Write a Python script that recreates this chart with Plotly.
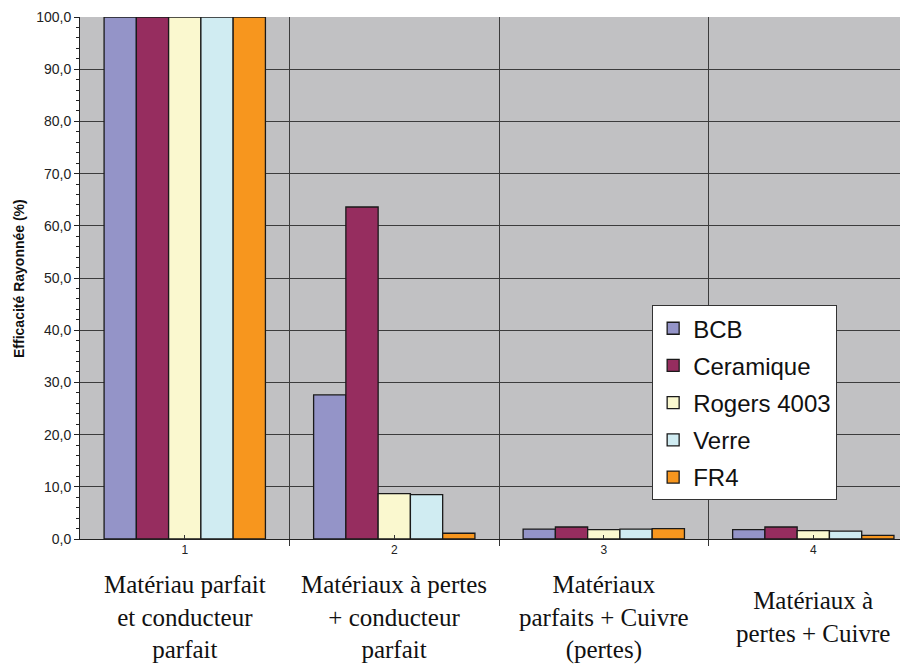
import plotly.graph_objects as go

categories = [1, 2, 3, 4]
tick_labels = ["1", "2", "3", "4"]
category_descriptions = [
    "Matériau parfait<br>et conducteur<br>parfait",
    "Matériaux à pertes<br>+ conducteur<br>parfait",
    "Matériaux<br>parfaits + Cuivre<br>(pertes)",
    "Matériaux à<br>pertes + Cuivre",
]

series_names = ["BCB", "Ceramique", "Rogers 4003", "Verre", "FR4"]
bcb = [100.0, 27.6, 1.9, 1.8]
ceramique = [100.0, 63.6, 2.3, 2.3]
rogers = [100.0, 8.7, 1.8, 1.6]
verre = [100.0, 8.5, 1.9, 1.5]
fr4 = [100.0, 1.1, 2.0, 0.7]
series_values = [bcb, ceramique, rogers, verre, fr4]
colors = ["#9494C8", "#962D5F", "#FAF8CF", "#D0ECF2", "#F7961E"]

fig = go.Figure()
for name, vals, col in zip(series_names, series_values, colors):
    fig.add_trace(go.Bar(
        x=categories, y=vals, name=name, legendgroup=name,
        marker=dict(color=col, line=dict(color="#1a1a1a", width=1.3)),
    ))

for cx, desc in zip(categories, category_descriptions):
    fig.add_annotation(
        x=cx, xref="x", y=0, yref="paper", yanchor="middle", yshift=-78,
        text=desc, showarrow=False, align="center",
        font=dict(family="Liberation Serif", size=25, color="#111"),
    )

fig.add_annotation(
    x=-0.0737, xref="paper", xanchor="center", y=0.5, yref="paper", yanchor="middle",
    text="<b>Efficacité Rayonnée (%)</b>", textangle=-90, showarrow=False,
    font=dict(family="Liberation Sans", size=14, color="#111"),
)

fig.update_layout(
    width=900, height=660,
    margin=dict(l=72, r=0, t=9, b=129),
    paper_bgcolor="white",
    plot_bgcolor="#C1C1C3",
    barmode="group",
    bargap=0.23,
    bargroupgap=0,
    separators=",.",
    font=dict(family="Liberation Sans", color="#222"),
    showlegend=True,
    legend=dict(
        x=0.691, y=0.448, xanchor="left", yanchor="top",
        bgcolor="white", bordercolor="#333", borderwidth=1,
        font=dict(family="Liberation Sans", size=24, color="#111"),
        tracegroupgap=3, itemwidth=30,
    ),
    xaxis=dict(
        range=[0.5, 4.452], automargin=False,
        tickvals=categories, ticktext=tick_labels,
        ticks="inside", ticklen=4, tickcolor="#333",
        tickfont=dict(size=12, color="#222"),
        showgrid=False, zeroline=False,
        showline=True, linecolor="#222", linewidth=1,
        minor=dict(tickvals=[0.5, 1.5, 2.5, 3.5], ticks="outside", ticklen=6,
                   tickcolor="#333", showgrid=True, gridcolor="#3c3c3c", gridwidth=1),
    ),
    yaxis=dict(
        range=[0, 100], automargin=False,
        dtick=10, tickformat=".1f", ticklabeloverflow="allow",
        ticks="outside", ticklen=5, tickcolor="#222",
        tickfont=dict(size=14, color="#222"),
        showgrid=True, gridcolor="#3c3c3c", gridwidth=1,
        zeroline=False,
        showline=True, linecolor="#222", linewidth=1,
        minor=dict(dtick=2, ticks="outside", ticklen=3, tickcolor="#222", showgrid=False),
    ),
)

fig.write_html("out.html")
